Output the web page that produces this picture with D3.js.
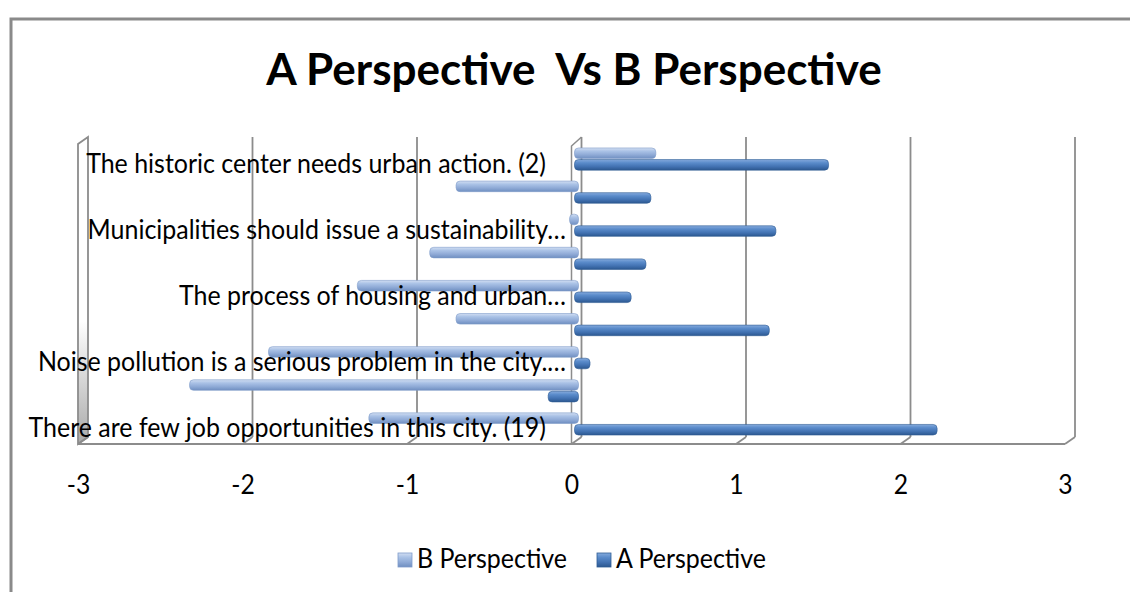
<!DOCTYPE html>
<html>
<head>
<meta charset="utf-8">
<script src="https://cdn.jsdelivr.net/npm/d3@7"></script>
<style>
  body { margin: 0; background: #fff; }
  svg text { font-family: Lato, "Open Sans", sans-serif; fill: #000; }
</style>
</head>
<body>
<script>
// chart values, categories listed from bottom to top (Excel order)
const categories = [
  "There are few job opportunities in this city. (19)",
  "cat 2",
  "Noise pollution is a serious problem in the city.\u2026",
  "cat 4",
  "The process of housing and urban\u2026",
  "cat 6",
  "Municipalities should issue a sustainability\u2026",
  "cat 8",
  "The historic center needs urban action. (2)"
];
// only every second category label is drawn, like the original
const shownLabels = [true, false, true, false, true, false, true, false, true];
const bValues = [-1.25, -2.34, -1.86, -0.72, -1.32, -0.88, -0.03, -0.72, 0.47];
const aValues = [2.18, -0.16, 0.07, 1.16, 0.32, 0.41, 1.20, 0.44, 1.52];
const seriesNames = ["B Perspective", "A Perspective"];
const xTicks = [-3, -2, -1, 0, 1, 2, 3];
const titleText = "A Perspective  Vs B Perspective";

window.onload = function() {
  drawChart();
};

function drawChart() {
  const w = 1130;
  const h = 592;
  // 3d depth of the plot box
  const depthX = 10;
  const depthY = -7;
  const floorY = 444;
  const wallTop = 137;

  let svg = d3.select("body")
    .append("svg")
    .attr("width", w)
    .attr("height", h);

  let defs = svg.append("defs");
  makeGradient(defs, "gradA", ["#86abdd", "#5b8ccb", "#4373b3", "#2c5890"]);
  makeGradient(defs, "gradB", ["#d2def2", "#aac2e6", "#8faad6", "#6f8fc1"]);
  let wallGrad = defs.append("linearGradient")
    .attr("id", "wallGrad")
    .attr("x1", 0).attr("y1", 0).attr("x2", 0).attr("y2", 1);
  wallGrad.append("stop").attr("offset", 0.6).attr("stop-color", "#ffffff");
  wallGrad.append("stop").attr("offset", 1).attr("stop-color", "#a9a9a9");

  // outer border of the chart area
  svg.append("path")
    .attr("d", "M11," + h + "V19H" + w)
    .attr("fill", "none")
    .attr("stroke", "#8a8a8a")
    .attr("stroke-width", 3);

  // scales (front plane of the 3d box)
  let x = d3.scaleLinear()
    .domain([-3, 3])
    .range([78, 1065]);
  let y = d3.scaleBand()
    .domain(d3.range(categories.length))
    .range([floorY, 146])
    .paddingInner(0.3)
    .paddingOuter(0.15);
  let ySub = d3.scaleBand()
    .domain(["B", "A"])
    .range([0, y.bandwidth()]);

  let gridColor = "#8c8c8c";

  // left side wall
  svg.append("path")
    .attr("d", "M" + x(-3) + "," + floorY + "V" + (wallTop - depthY) +
      "L" + (x(-3) + depthX) + "," + wallTop + "V" + (floorY + depthY) + "Z")
    .attr("fill", "url(#wallGrad)")
    .attr("stroke", gridColor)
    .attr("stroke-width", 1.8);

  // back wall grid lines and floor lines
  let grid = svg.append("g");
  xTicks.forEach(function(t) {
    if (t > -3) {
      grid.append("line")
        .attr("x1", x(t) + depthX).attr("x2", x(t) + depthX)
        .attr("y1", wallTop).attr("y2", floorY + depthY)
        .attr("stroke", gridColor)
        .attr("stroke-width", 1.8);
    }
    grid.append("line")
      .attr("x1", x(t)).attr("x2", x(t) + depthX)
      .attr("y1", floorY).attr("y2", floorY + depthY)
      .attr("stroke", gridColor)
      .attr("stroke-width", 1.8);
  });
  // floor front edge
  grid.append("line")
    .attr("x1", x(-3)).attr("x2", x(3))
    .attr("y1", floorY).attr("y2", floorY)
    .attr("stroke", gridColor)
    .attr("stroke-width", 2.2);

  // zero plane (category axis)
  svg.append("path")
    .attr("d", "M" + x(0) + "," + floorY + "V" + (wallTop - depthY + 2) +
      "L" + (x(0) + depthX) + "," + wallTop)
    .attr("fill", "none")
    .attr("stroke", gridColor)
    .attr("stroke-width", 1.5);

  // bars drawn half way into the depth
  let midX = function(v) { return x(v) + depthX / 2; };
  let rows = [];
  categories.forEach(function(c, i) {
    rows.push({i: i, s: "B", v: bValues[i]});
    rows.push({i: i, s: "A", v: aValues[i]});
  });

  svg.append("g")
    .selectAll("rect")
    .data(rows)
    .enter()
    .append("rect")
    .attr("x", function(d) { return Math.min(midX(0), midX(d.v)) - 2; })
    .attr("y", function(d) { return y(d.i) + ySub(d.s) + depthY / 2 + 0.5; })
    .attr("width", function(d) { return Math.abs(midX(d.v) - midX(0)) + 4; })
    .attr("height", ySub.bandwidth() - 1)
    .attr("rx", 4)
    .attr("fill", function(d) { return d.s == "A" ? "url(#gradA)" : "url(#gradB)"; })
    .attr("stroke", function(d) { return d.s == "A" ? "#2f5c94" : "#7f9cca"; })
    .attr("stroke-width", 0.6);

  // category labels
  svg.append("g")
    .selectAll("text")
    .data(categories.filter(function(c, i) { return shownLabels[i]; }))
    .enter()
    .append("text")
    .attr("class", "fit")
    .attr("x", function(d) { return d.endsWith("\u2026") ? 566 : 546; })
    .attr("y", function(d) {
      let i = categories.indexOf(d);
      return y(i) + y.bandwidth() / 2 + 10;
    })
    .attr("text-anchor", "end")
    .style("font-size", "26px")
    .text(function(d) { return d; });

  // value axis labels
  let xAxis = d3.axisBottom(x)
    .tickValues(xTicks)
    .tickSize(0)
    .tickPadding(0)
    .tickFormat(function(d) { return String(d); });
  let axisG = svg.append("g")
    .attr("transform", "translate(0,476)")
    .call(xAxis);
  axisG.select(".domain").remove();
  axisG.attr("font-family", null).attr("font-size", null);
  axisG.selectAll("text")
    .style("font-size", "26px")
    .attr("fill", "#000");

  // title
  svg.append("text")
    .attr("class", "fitBold")
    .attr("x", 574)
    .attr("y", 85)
    .attr("text-anchor", "middle")
    .style("font-size", "44px")
    .style("font-weight", "bold")
    .style("white-space", "pre")
    .text(titleText);

  // legend
  let legend = svg.append("g");
  seriesNames.forEach(function(name, k) {
    let lx = 398 + k * 199;
    legend.append("rect")
      .attr("x", lx).attr("y", 553)
      .attr("width", 14).attr("height", 14)
      .attr("fill", k == 0 ? "url(#gradB)" : "url(#gradA)")
      .attr("stroke", k == 0 ? "#7f9cca" : "#2f5c94")
      .attr("stroke-width", 0.8);
    legend.append("text")
      .attr("class", "fit")
      .attr("x", lx + 19)
      .attr("y", 568)
      .style("font-size", "26px")
      .text(name);
  });

  // squeeze Lato a bit towards the narrower original face
  squeeze(svg.selectAll("text.fit"), 0.96);
  squeeze(axisG.selectAll("text"), 0.95);
  squeeze(svg.selectAll("text.fitBold"), 1.0);
}

function makeGradient(defs, id, colors) {
  let g = defs.append("linearGradient")
    .attr("id", id)
    .attr("x1", 0).attr("y1", 0).attr("x2", 0).attr("y2", 1);
  let offsets = [0, 0.3, 0.65, 1];
  colors.forEach(function(c, i) {
    g.append("stop").attr("offset", offsets[i]).attr("stop-color", c);
  });
}

function squeeze(sel, k) {
  sel.each(function() {
    let len = this.getComputedTextLength();
    d3.select(this)
      .attr("textLength", len * k)
      .attr("lengthAdjust", "spacingAndGlyphs");
  });
}
</script>
</body>
</html>
